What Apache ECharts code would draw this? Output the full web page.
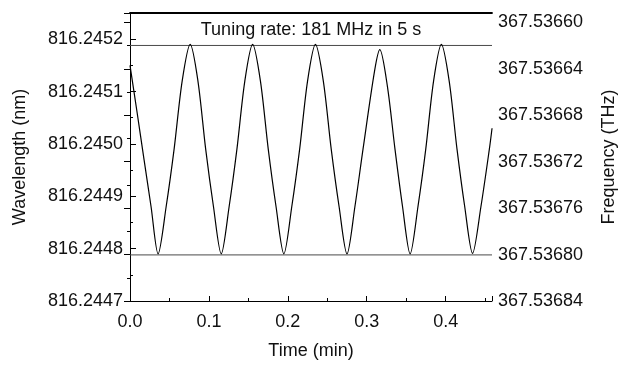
<!DOCTYPE html>
<html>
<head>
<meta charset="utf-8">
<script src="https://cdn.jsdelivr.net/npm/echarts@6/dist/echarts.min.js"></script>
<style>
  html, body { margin: 0; padding: 0; background: #fff; }
  #chart { width: 626px; height: 365px; }
</style>
</head>
<body>
<div id="chart"></div>
<script>
// Time (min)
const timeMin = [
  0.0000, 0.0090, 0.0178, 0.0267, 0.0356,
  0.0458, 0.0559, 0.0661, 0.0763,
  0.0861, 0.0959, 0.1058, 0.1156,
  0.1256, 0.1355, 0.1455, 0.1554,
  0.1653, 0.1752, 0.1851, 0.1950,
  0.2050, 0.2150, 0.2250, 0.2350,
  0.2450, 0.2550, 0.2650, 0.2750,
  0.2850, 0.2953, 0.3100, 0.3166,
  0.3262, 0.3358, 0.3454, 0.3550,
  0.3649, 0.3748, 0.3847, 0.3946,
  0.4045, 0.4144, 0.4242, 0.4341,
  0.4447, 0.4554, 0.4588
];
// Wavelength (nm)
const wavelengthNm = [
  816.24515, 816.24506, 816.24497, 816.24488, 816.24479,
  816.24488, 816.24499, 816.24512, 816.24519,
  816.24512, 816.24499, 816.24488, 816.24479,
  816.24488, 816.24499, 816.24512, 816.24519,
  816.24512, 816.24499, 816.24488, 816.24479,
  816.24488, 816.24499, 816.24512, 816.24519,
  816.24512, 816.24499, 816.24488, 816.24479,
  816.24488, 816.24499, 816.24514, 816.24518,
  816.24511, 816.24499, 816.24488, 816.24479,
  816.24488, 816.24499, 816.24512, 816.24519,
  816.24512, 816.24499, 816.24488, 816.244791,
  816.24488, 816.24499, 816.24503
];
// Horizontal reference levels (nm)
const guideLevels = [816.245188, 816.244788];
// Axis ranges
const timeRange = [0, 0.45875];
const wavelengthRange = [816.2447, 816.24525];
// Right-axis tick labels (THz), bottom to top
const freqTicks = ['367.53684', '367.53680', '367.53676', '367.53672', '367.53668', '367.53664', '367.53660'];
const annotation = 'Tuning rate: 181 MHz in 5 s';

const FONT = '"Liberation Sans", Arial, Helvetica, sans-serif';
const TXT = '#111';

const chart = echarts.init(document.getElementById('chart'), null, { renderer: 'canvas' });
const seriesData = timeMin.map((t, i) => [t, wavelengthNm[i]]);

const guideSeries = guideLevels.map(v => ({
  type: 'line', xAxisIndex: 0, yAxisIndex: 0, silent: true,
  data: [[timeRange[0], v], [timeRange[1], v]],
  symbol: 'none', lineStyle: { color: '#4a4a4a', width: 1 }, z: 1
}));

chart.setOption({
  animation: false,
  backgroundColor: '#fff',
  grid: { left: 130, right: 129, top: 13, bottom: 57, containLabel: false },
  graphic: [{
    type: 'text', x: 311, y: 30,
    style: { text: annotation, font: '18px ' + FONT, fill: TXT, textAlign: 'center', textVerticalAlign: 'middle' }
  }],
  xAxis: [{
    type: 'value', min: timeRange[0], max: timeRange[1], interval: 0.1,
    name: 'Time (min)', nameLocation: 'middle', nameGap: 41,
    nameTextStyle: { fontFamily: FONT, fontSize: 18, color: TXT },
    axisLine: { show: true, lineStyle: { color: '#000', width: 1 } },
    axisTick: { show: true, inside: true, length: 5, lineStyle: { color: '#000' } },
    minorTick: { show: true, splitNumber: 2, length: 3, lineStyle: { color: '#000' } },
    axisLabel: { fontFamily: FONT, fontSize: 18, color: TXT, margin: 12, showMaxLabel: false,
                 formatter: v => v.toFixed(1) },
    splitLine: { show: false }
  }, {
    type: 'value', position: 'top', min: timeRange[0], max: timeRange[1],
    axisLine: { show: true, lineStyle: { color: '#000', width: 1.8 } },
    axisTick: { show: false }, axisLabel: { show: false }, splitLine: { show: false }
  }],
  yAxis: [{
    type: 'value', position: 'left', min: wavelengthRange[0], max: wavelengthRange[1], interval: 0.0001,
    name: 'Wavelength (nm)', nameLocation: 'middle', nameGap: 101,
    nameTextStyle: { fontFamily: FONT, fontSize: 18, color: TXT },
    axisLine: { show: true, lineStyle: { color: '#000', width: 1 } },
    axisTick: { show: true, inside: true, length: 6, lineStyle: { color: '#000' } },
    minorTick: { show: true, splitNumber: 2, length: 3, lineStyle: { color: '#000' } },
    axisLabel: { fontFamily: FONT, fontSize: 18, color: TXT, margin: 7, showMaxLabel: false,
                 formatter: v => v.toFixed(4) },
    splitLine: { show: false }
  }, {
    type: 'value', position: 'right', min: 0, max: 6.204, interval: 1,
    name: 'Frequency (THz)', nameLocation: 'middle', nameGap: 108,
    nameTextStyle: { fontFamily: FONT, fontSize: 18, color: TXT },
    axisLine: { show: true, lineStyle: { color: '#000', width: 1 } },
    axisTick: { show: true, inside: true, length: 6, lineStyle: { color: '#000' } },
    minorTick: { show: true, splitNumber: 2, length: 3, lineStyle: { color: '#000' } },
    axisLabel: { fontFamily: FONT, fontSize: 18, color: TXT, margin: 6, showMaxLabel: false,
                 formatter: v => freqTicks[Math.round(v)] || '' },
    splitLine: { show: false }
  }],
  series: guideSeries.concat([{
    type: 'line', xAxisIndex: 0, yAxisIndex: 0,
    data: seriesData, smooth: 0.3, symbol: 'none',
    lineStyle: { color: '#000', width: 1.2 }, z: 2
  }])
});
</script>
</body>
</html>
